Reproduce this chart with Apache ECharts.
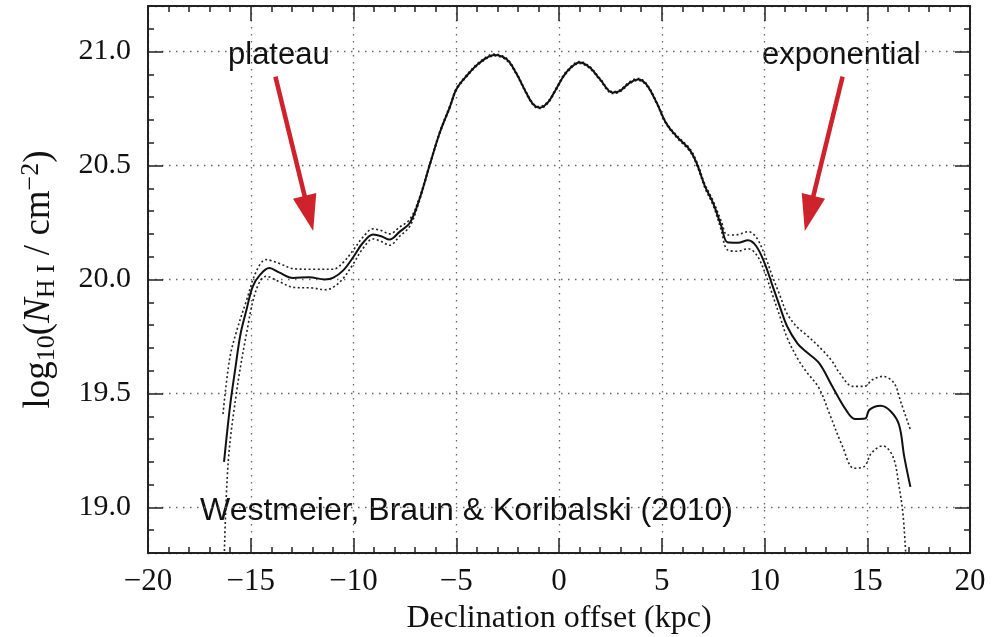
<!DOCTYPE html>
<html><head><meta charset="utf-8">
<script src="https://cdn.jsdelivr.net/npm/echarts@6/dist/echarts.min.js"></script>
<style>html,body{margin:0;padding:0;background:#fff}#c{width:1006px;height:637px}</style>
</head><body><div id="c"></div>
<script>
// Main profile: declination offset (kpc) and log10(N_HI / cm^-2)
const mainX = [-16.3,-16.0,-15.75,-15.5,-15.2,-14.9,-14.55,-14.1,-13.6,-12.95,-12.15,-11.4,-11.0,-10.5,-10.0,-9.55,-9.05,-8.65,-8.25,-7.75,-7.25,-6.8,-6.3,-5.8,-5.3,-5.0,-4.5,-3.85,-3.15,-2.55,-2.1,-1.6,-1.25,-0.95,-0.55,-0.15,0.35,1.0,1.5,2.0,2.6,2.95,3.45,3.85,4.25,4.75,5.2,5.7,6.35,6.7,7.1,7.5,7.9,8.2,8.7,9.2,9.6,10.0,10.4,10.75,11.1,11.6,12.0,12.65,13.3,13.95,14.4,14.9,15.1,15.65,16.15,16.55,16.8,17.1];
const mainY = [19.20,19.45,19.61,19.76,19.87,19.97,20.02,20.05,20.03,20.007,20.01,20.0,20.007,20.04,20.10,20.16,20.197,20.19,20.175,20.21,20.25,20.35,20.50,20.645,20.76,20.834,20.893,20.952,20.985,20.966,20.908,20.82,20.768,20.754,20.776,20.834,20.908,20.952,20.93,20.878,20.82,20.827,20.864,20.878,20.856,20.776,20.688,20.63,20.57,20.51,20.41,20.335,20.234,20.163,20.161,20.172,20.146,20.073,19.97,19.88,19.795,19.72,19.685,19.634,19.531,19.43,19.388,19.39,19.428,19.446,19.421,19.362,19.223,19.09];

// Upper uncertainty envelope
const upperX = [-16.35,-16.03,-15.7,-15.2,-14.73,-14.25,-13.6,-12.9,-12.0,-11.0,-10.5,-10.0,-9.55,-9.05,-8.65,-8.25,-7.75,-7.25,-6.8,-6.3,-5.8,-5.3,-5.0,-4.5,-3.85,-3.15,-2.55,-2.1,-1.6,-1.25,-0.95,-0.55,-0.15,0.35,1.0,1.5,2.0,2.6,2.95,3.45,3.85,4.25,4.75,5.2,5.7,6.35,6.7,7.1,7.5,7.9,8.2,8.7,9.2,9.6,10.0,10.4,10.75,11.1,11.6,12.0,12.8,13.3,13.65,14.3,14.85,15.25,15.75,16.3,16.65,17.1];
const upperY = [19.41,19.65,19.77,19.91,20.036,20.087,20.07,20.047,20.045,20.045,20.075,20.13,20.185,20.222,20.215,20.20,20.23,20.265,20.357,20.505,20.65,20.765,20.838,20.897,20.956,20.989,20.97,20.912,20.824,20.772,20.758,20.78,20.838,20.912,20.956,20.934,20.882,20.824,20.831,20.868,20.882,20.86,20.78,20.692,20.635,20.576,20.517,20.418,20.345,20.255,20.195,20.197,20.21,20.185,20.11,20.01,19.93,19.85,19.79,19.76,19.692,19.64,19.59,19.531,19.531,19.56,19.575,19.546,19.458,19.34];

// Lower uncertainty envelope
const lowerX = [-16.3,-16.1,-15.7,-15.2,-14.73,-14.25,-13.6,-12.9,-12.0,-11.4,-11.0,-10.5,-10.0,-9.55,-9.05,-8.65,-8.25,-7.75,-7.25,-6.8,-6.3,-5.8,-5.3,-5.0,-4.5,-3.85,-3.15,-2.55,-2.1,-1.6,-1.25,-0.95,-0.55,-0.15,0.35,1.0,1.5,2.0,2.6,2.95,3.45,3.85,4.25,4.75,5.2,5.7,6.35,6.7,7.1,7.5,7.9,8.2,8.7,9.2,9.6,10.0,10.4,10.75,11.1,11.6,12.0,12.65,13.15,13.8,14.35,14.85,15.2,15.75,16.25,16.55,16.75,16.9];
const lowerY = [18.75,19.196,19.50,19.766,19.956,20.014,19.99,19.965,19.963,19.955,19.965,20.005,20.07,20.135,20.178,20.167,20.15,20.19,20.235,20.343,20.495,20.64,20.755,20.83,20.889,20.948,20.981,20.962,20.904,20.816,20.764,20.75,20.772,20.83,20.904,20.948,20.926,20.874,20.816,20.823,20.86,20.874,20.852,20.772,20.684,20.625,20.564,20.503,20.402,20.325,20.215,20.13,20.124,20.135,20.11,20.035,19.93,19.838,19.745,19.655,19.60,19.524,19.414,19.267,19.172,19.179,19.238,19.27,19.223,19.091,18.96,18.75];

// Annotation arrows (tail, head centre) in data coordinates
const arrowPlateau = [[-13.8, 20.89], [-12.17, 20.29]];
const arrowExponential = [[13.8, 20.89], [12.17, 20.29]];

const xRange = [-20, 20];
const yRange = [18.8, 21.2];

const zip = (xs, ys) => xs.map((x, i) => [x, ys[i]]);
const minus = v => (v < 0 ? '\u2212' + Math.abs(v) : String(v));

const serif = 'Liberation Serif';
const axisCol = '#222';
const gridStyle = { color: '#666', width: 1.3, type: [1.5, 5.5] };

const chart = echarts.init(document.getElementById('c'), null, { renderer: 'canvas' });
const baseX = {
  type: 'value', min: xRange[0], max: xRange[1], interval: 5,
  axisLine: { show: true, onZero: false, lineStyle: { color: axisCol, width: 2 } },
  axisTick: { show: true, inside: true, length: 15, lineStyle: { color: axisCol, width: 1.5 } },
  minorTick: { show: true, splitNumber: 5, length: 6, lineStyle: { color: axisCol, width: 1.5 } },
};
const baseY = {
  type: 'value', min: yRange[0], max: yRange[1], splitNumber: 5,
  axisLine: { show: true, onZero: false, lineStyle: { color: axisCol, width: 2 } },
  axisTick: { show: true, inside: true, length: 15, lineStyle: { color: axisCol, width: 1.5 } },
  minorTick: { show: true, splitNumber: 5, length: 6, lineStyle: { color: axisCol, width: 1.5 } },
};
const isHalf = v => Math.abs(v * 2 - Math.round(v * 2)) < 1e-6;

chart.setOption({
  animation: false,
  backgroundColor: '#fff',
  grid: { left: 148, right: 36, top: 6, bottom: 84, containLabel: false, outerBoundsMode: 'none' },
  xAxis: [
    Object.assign({}, baseX, {
      position: 'bottom',
      name: 'Declination offset (kpc)', nameLocation: 'middle', nameGap: 50,
      nameTextStyle: { fontFamily: serif, fontSize: 32, color: '#111' },
      axisLabel: { fontFamily: serif, fontSize: 31, color: '#111', margin: 13, formatter: minus },
      splitLine: { show: true, lineStyle: gridStyle },
    }),
    Object.assign({}, baseX, {
      position: 'top', axisLabel: { show: false }, splitLine: { show: false },
    }),
  ],
  yAxis: [
    Object.assign({}, baseY, {
      position: 'left',
      name: '{a|log}{s|10}{a|(}{i|N}{s|H I}{a| / cm}{p|\u22122}{a|)}',
      nameLocation: 'middle', nameGap: 88, nameRotate: 90,
      nameTextStyle: {
        fontFamily: serif, fontSize: 37, color: '#111',
        rich: {
          a: { fontFamily: serif, fontSize: 37, color: '#111', lineHeight: 42 },
          i: { fontFamily: serif, fontSize: 37, color: '#111', fontStyle: 'italic', lineHeight: 42 },
          s: { fontFamily: serif, fontSize: 26, color: '#111', verticalAlign: 'bottom', lineHeight: 42 },
          p: { fontFamily: serif, fontSize: 26, color: '#111', verticalAlign: 'top', lineHeight: 42 },
        },
      },
      axisLabel: {
        fontFamily: serif, fontSize: 30, color: '#111', margin: 17,
        showMinLabel: false, showMaxLabel: false,
        formatter: v => (isHalf(v) ? v.toFixed(1) : ''),
      },
      splitLine: { show: true, lineStyle: gridStyle },
    }),
    Object.assign({}, baseY, {
      position: 'right', axisLabel: { show: false }, splitLine: { show: false },
    }),
  ],
  graphic: [
    { type: 'text', left: 228, top: 40, silent: true,
      style: { text: 'plateau', font: '31px "Liberation Sans"', fill: '#111' } },
    { type: 'text', left: 762, top: 40, silent: true,
      style: { text: 'exponential', font: '31px "Liberation Sans"', fill: '#111' } },
    { type: 'text', left: 200, top: 495, silent: true,
      style: { text: 'Westmeier, Braun & Koribalski (2010)', font: '32px "Liberation Sans"', fill: '#111' } },
  ],
  series: [
    {
      type: 'line', name: 'upper', data: zip(upperX, upperY), showSymbol: false, symbol: 'none',
      smooth: 0.35, lineStyle: { color: '#222', width: 1.6, type: [2, 2.5] }, z: 3,
    },
    {
      type: 'line', name: 'lower', data: zip(lowerX, lowerY), showSymbol: false, symbol: 'none',
      smooth: 0.35, lineStyle: { color: '#222', width: 1.6, type: [2, 2.5] }, z: 3,
    },
    {
      type: 'line', name: 'N_HI', data: zip(mainX, mainY), showSymbol: false, symbol: 'none',
      smooth: 0.35, lineStyle: { color: '#111', width: 2 }, z: 4,
      markLine: {
        silent: true, animation: false,
        symbol: ['none', 'triangle'], symbolSize: [24, 36],
        label: { show: false },
        lineStyle: { color: '#cf232c', width: 4.5, type: 'solid' },
        emphasis: { disabled: true },
        data: [
          [{ coord: arrowPlateau[0] }, { coord: arrowPlateau[1] }],
          [{ coord: arrowExponential[0] }, { coord: arrowExponential[1] }],
        ],
      },
    },
  ],
});
</script></body></html>
